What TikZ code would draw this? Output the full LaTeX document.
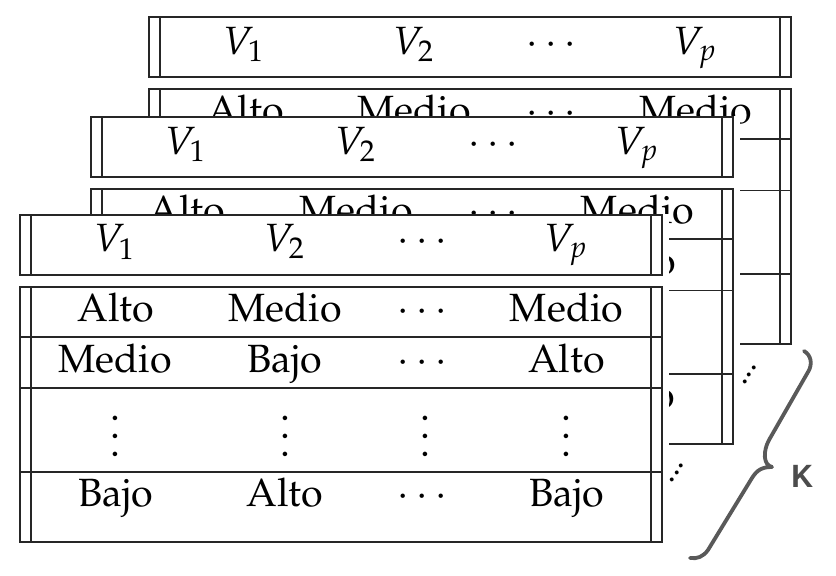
\documentclass[tikz,border=0pt]{standalone}
\usepackage[T1]{fontenc}
\usepackage{mathpazo}
\usepackage{helvet}
\newcommand\tabvdots{\vbox{\baselineskip4.6pt\lineskiplimit0pt\kern6pt\hbox{.}\hbox{.}\hbox{.}}}
\tikzset{
  tline/.style={line width=0.45pt, draw=black!85},
  cell/.style={anchor=base, inner sep=0pt, font=\fontsize{9.85}{12}\selectfont},
  bracestroke/.style={draw=black!65, line width=0.95pt, line cap=round, line join=round},
  tdots/.style={rotate=58, anchor=base, inner sep=0pt, font=\fontsize{8.5}{10}\selectfont},
}
% #1 x, #2 y, #3 name prefix
\newcommand\stacktable[3]{%
\begin{scope}[shift={(#1,#2)}]
  \fill[white] (-1,-1) rectangle (648.5,328);
  \draw[tline] (0,0) rectangle (641.7,60);
  \draw[tline] (11,0) -- (11,60) (631,0) -- (631,60);
  \draw[tline] (0,71.7) rectangle (641.7,326.7);
  \draw[tline] (11,71.7) -- (11,326.7) (631,71.7) -- (631,326.7);
  \draw[tline] (0,121.7) -- (641.7,121.7) (0,173.3) -- (641.7,173.3) (0,256.7) -- (641.7,256.7);
  \node[cell] (#3h1) at (95,37) {$V_1$};
  \node[cell] (#3h2) at (265,37) {$V_2$};
  \node[cell] (#3h3) at (402,37) {$\cdots$};
  \node[cell] (#3h4) at (546.5,37) {$V_p$};
  \node[cell] (#3a1) at (96,106.7) {Alto};
  \node[cell] (#3a2) at (265,106.7) {Medio};
  \node[cell] (#3a3) at (402,106.7) {$\cdots$};
  \node[cell] (#3a4) at (546.5,106.7) {Medio};
  \node[cell] (#3b1) at (95,157.7) {Medio};
  \node[cell] (#3b2) at (265,157.7) {Bajo};
  \node[cell] (#3b3) at (402,157.7) {$\cdots$};
  \node[cell] (#3b4) at (546.5,157.7) {Alto};
  \node[cell] (#3c1) at (95,242) {\tabvdots};
  \node[cell] (#3c2) at (265,242) {\tabvdots};
  \node[cell] (#3c3) at (405,242) {\tabvdots};
  \node[cell] (#3c4) at (546.5,242) {\tabvdots};
  \node[cell] (#3d1) at (96,291.7) {Bajo};
  \node[cell] (#3d2) at (265,291.7) {Alto};
  \node[cell] (#3d3) at (402,291.7) {$\cdots$};
  \node[cell] (#3d4) at (546.5,291.7) {Bajo};
\end{scope}}
\begin{document}
\begin{tikzpicture}[x=0.25pt,y=-0.25pt]
  \useasboundingbox (0,0) rectangle (836,576);
  \stacktable{149.3}{17.3}{tc}
  \stacktable{91}{117.3}{tb}
  \stacktable{20}{215}{ta}
  \node[tdots] (dotsup) at (751,376) {...};
  \node[tdots] (dotslow) at (678.3,474) {...};
  \draw[bracestroke] (804,351) .. controls (811,355) and (813,364) .. (808,372)
     -- (769,440) .. controls (763,451) and (763,465) .. (772,467)
     .. controls (762,467) and (757,470) .. (752,478)
     -- (708,550) .. controls (703,557) and (697,559) .. (690,558);
  \node[font=\sffamily\bfseries\fontsize{7.6}{9}\selectfont, text=black!70, inner sep=0pt] (K) at (802,477) {K};
\end{tikzpicture}
\end{document}
